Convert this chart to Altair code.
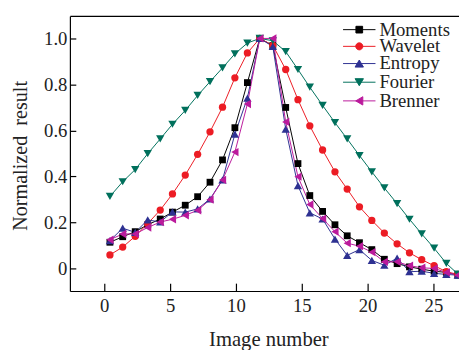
import math
import altair as alt
import pandas as pd

# ---- data ----
image_number = [0.43, 1.40, 2.35, 3.30, 4.25, 5.18, 6.15, 7.09, 8.03, 8.98, 9.92, 10.87, 11.81,
                12.80, 13.78, 14.71, 15.61, 16.58, 17.52, 18.45, 19.38, 20.32, 21.27, 22.24,
                23.18, 24.11, 25.05, 25.98, 26.85]

series_names = ["Moments", "Wavelet", "Entropy", "Fourier", "Brenner"]

moments = [0.114, 0.138, 0.160, 0.190, 0.215, 0.245, 0.275, 0.312, 0.375, 0.472, 0.612, 0.808, 1.0,
           0.969, 0.700, 0.456, 0.317, 0.248, 0.190, 0.142, 0.112, 0.082, 0.040, 0.021, 0.007,
           -0.003, -0.012, -0.017, -0.029]
wavelet = [0.059, 0.093, 0.140, 0.195, 0.254, 0.324, 0.406, 0.496, 0.594, 0.701, 0.829, 0.937, 1.0,
           0.970, 0.865, 0.734, 0.620, 0.515, 0.420, 0.345, 0.268, 0.209, 0.154, 0.107, 0.068,
           0.038, 0.012, -0.014, -0.026]
entropy = [0.121, 0.175, 0.157, 0.211, 0.202, 0.246, 0.245, 0.259, 0.302, 0.385, 0.584, 0.741, 1.0,
           0.965, 0.606, 0.360, 0.242, 0.215, 0.128, 0.057, 0.082, 0.035, 0.014, 0.045, -0.014,
           -0.012, -0.021, -0.026, -0.029]
fourier = [0.313, 0.377, 0.430, 0.499, 0.563, 0.627, 0.687, 0.752, 0.812, 0.872, 0.933, 0.980, 1.0,
           0.990, 0.943, 0.865, 0.788, 0.709, 0.634, 0.563, 0.491, 0.420, 0.350, 0.282, 0.214,
           0.150, 0.088, 0.022, -0.024]
brenner = [0.125, 0.150, 0.150, 0.178, 0.202, 0.214, 0.231, 0.253, 0.299, 0.385, 0.506, 0.715, 1.0,
           1.0, 0.637, 0.399, 0.278, 0.217, 0.160, 0.110, 0.097, 0.071, 0.029, 0.029, 0.012,
           0.003, 0.0, -0.017, -0.029]

x_ticks = [0, 5, 10, 15, 20, 25]
y_ticks = [0, 0.2, 0.4, 0.6, 0.8, 1.0]

colors = ["#000000", "#ec1c24", "#2e3192", "#00705c", "#bb1a9c"]
shapes = ["square", "circle", "triangle-up", "triangle-down", "triangle-left"]
marker_sizes = [48, 55, 72, 72, 72]
legend_rows_y = [4.5, 21.5, 39, 58, 77]   # legend entry offsets from the plot top

# legend glyphs: a line segment through the marker (path units: 5 px)
circle_pts = "".join(
    f"{'M' if i == 0 else 'L'}{0.72 * math.cos(2 * math.pi * i / 16):.3f},{0.72 * math.sin(2 * math.pi * i / 16):.3f}"
    for i in range(16)
)
legend_paths = [
    "M-3.3,0L3.3,0M-0.68,-0.68L0.68,-0.68L0.68,0.68L-0.68,0.68Z",
    "M-3.3,0L3.3,0" + circle_pts + "Z",
    "M-3.3,0L3.3,0M0,-0.72L0.85,0.72L-0.85,0.72Z",
    "M-3.3,0L3.3,0M0,0.72L0.85,-0.72L-0.85,-0.72Z",
    "M-3.3,0L3.3,0M-0.72,0L0.72,-0.85L0.72,0.85Z",
]

rows = []
for name, col, vals in zip(series_names, colors, [moments, wavelet, entropy, fourier, brenner]):
    for i, (xv, yv) in enumerate(zip(image_number, vals)):
        rows.append({"series": name, "col": col, "order": i, "x": xv, "y": yv})
df = pd.DataFrame(rows)

FONT = "Liberation Serif"
TXT = "#222222"
xscale = alt.Scale(domain=[-2.61, 26.94], nice=False, zero=False)
yscale = alt.Scale(domain=[-0.098, 1.098], nice=False, zero=False)

lines = alt.Chart(df).mark_line(strokeWidth=1, clip=True).encode(
    x=alt.X("x:Q", scale=xscale, axis=alt.Axis(
        orient="bottom", values=x_ticks, ticks=False, tickSize=0, domain=True,
        domainColor="#000000", domainWidth=1.2, grid=False,
        labelFont=FONT, labelFontSize=19, labelColor=TXT, labelPadding=6, labelFlush=False,
        title="Image number", titleFont=FONT, titleFontSize=21, titleFontWeight="normal",
        titleColor=TXT, titleX=202, titleY=55, titleAlign="center", titleBaseline="alphabetic")),
    y=alt.Y("y:Q", scale=yscale, axis=alt.Axis(
        orient="left", values=y_ticks, ticks=False, tickSize=0, domain=True,
        domainColor="#000000", domainWidth=1.2, grid=False,
        labelExpr="datum.value == 0 ? '0' : format(datum.value, '.1f')",
        labelFont=FONT, labelFontSize=19, labelColor=TXT, labelPadding=3,
        title="Normalized\u00a0 result", titleFont=FONT, titleFontSize=20.5, titleFontWeight="normal",
        titleColor=TXT, titleX=-44, titleY=142, titleAngle=270, titleAlign="center",
        titleBaseline="alphabetic")),
    color=alt.Color("col:N", scale=None),
    detail=alt.Detail("series:N"),
    order=alt.Order("order:Q"),
)

point_layers = []
for k, (name, shp, sz) in enumerate(zip(series_names, shapes, marker_sizes)):
    if k == 0:
        xax = alt.Axis(orient="bottom", offset=-8, values=x_ticks, ticks=True, tickSize=8,
                       tickWidth=1.2, tickColor="#000000", domain=False, labels=False,
                       grid=False, title=None)
        yax = alt.Axis(orient="left", offset=-6, values=y_ticks, ticks=True, tickSize=6,
                       tickWidth=1.2, tickColor="#000000", domain=False, labels=False,
                       grid=False, title=None)
    else:
        xax = None
        yax = None
    layer = alt.Chart(df).transform_filter(
        alt.datum.series == name
    ).mark_point(filled=True, opacity=1, clip=True, shape=shp, size=sz).encode(
        x=alt.X("x:Q", scale=xscale, axis=xax),
        y=alt.Y("y:Q", scale=yscale, axis=yax),
        color=alt.Color("col:N", scale=None),
    )
    point_layers.append(layer)

legend_layers = []
for k, (name, col, path, ly) in enumerate(zip(series_names, colors, legend_paths, legend_rows_y)):
    if k == 0:
        xax = alt.Axis(orient="top", domain=True, domainColor="#000000", domainWidth=1.2,
                       ticks=False, labels=False, grid=False, title=None)
    else:
        xax = None
    leg = alt.Legend(title=None, symbolOpacity=1, legendX=285, legendY=ly)
    layer = alt.Chart(df).transform_filter(
        alt.datum.series == name
    ).mark_point(filled=True, opacity=0, strokeWidth=1, clip=True).encode(
        x=alt.X("x:Q", scale=xscale, axis=xax),
        y=alt.Y("y:Q", scale=yscale, axis=None),
        fill=alt.Fill("series:N", scale=alt.Scale(domain=[name], range=[col]), legend=leg),
        stroke=alt.Stroke("series:N", scale=alt.Scale(domain=[name], range=[col]), legend=leg),
        shape=alt.Shape("series:N", scale=alt.Scale(domain=[name], range=[path]), legend=leg),
    )
    legend_layers.append(layer)

chart = alt.layer(lines, *point_layers, *legend_layers).resolve_axis(
    x="independent", y="independent"
).resolve_scale(
    fill="independent", stroke="independent", shape="independent"
).resolve_legend(
    fill="independent", stroke="independent", shape="independent"
).properties(
    width=396, height=280,
    autosize=alt.AutoSizeParams(type="none"),
    padding={"left": 63, "top": 5, "right": 0, "bottom": 57},
    background="#ffffff",
).configure_view(
    stroke=None
).configure_legend(
    orient="none", symbolSize=100, symbolStrokeWidth=1,
    symbolOpacity=1, labelFont=FONT, labelFontSize=19, labelColor=TXT, labelOffset=11,
    padding=0,
)

chart.save("out.html", embed_options={"renderer": "svg", "actions": False})
